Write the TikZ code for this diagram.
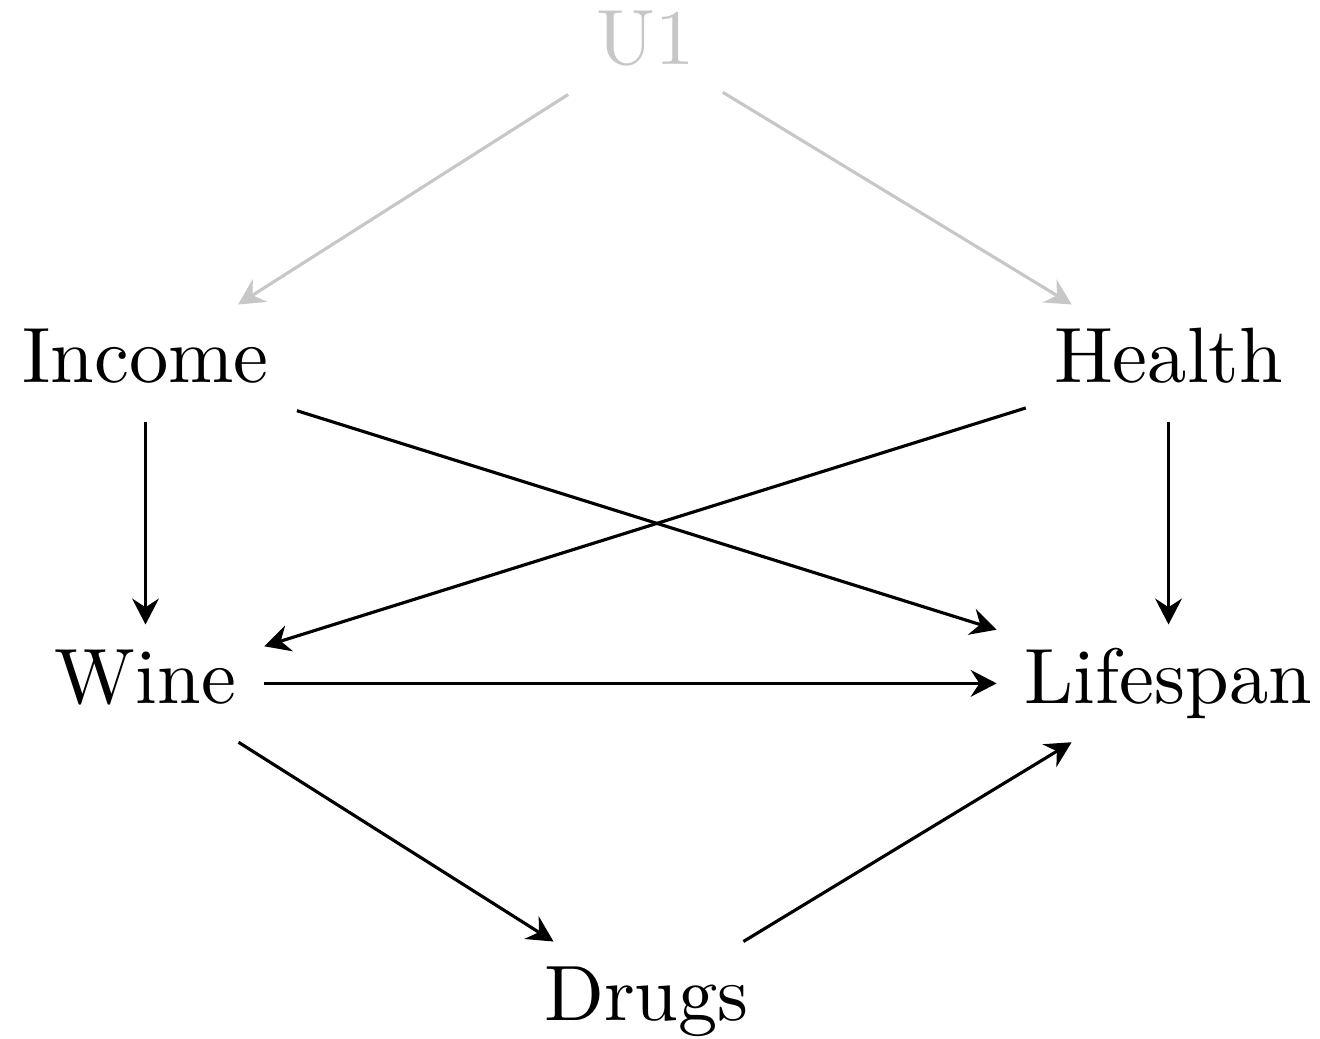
\documentclass[tikz,border=0pt]{standalone}
\usetikzlibrary{arrows.meta}
\begin{document}
\begin{tikzpicture}[x=0.12739pt,y=-0.12739pt,
  var/.style={text height=7.6pt, text depth=2.6pt, inner xsep=3.4pt, inner ysep=2.2pt, anchor=base},
  hid/.style={var, text=black!22},
  arr/.style={-{Stealth[length=3.3pt,width=3.4pt,inset=1.1pt]}, line width=0.4pt},
  harr/.style={arr, draw=black!22}]
\useasboundingbox (0,0) rectangle (1320,1038);
\node[hid] (U1) at (645.5,65) {U1};
\node[var] (Income) at (145.5,383) {Income};
\node[var] (Health) at (1168.5,383) {Health};
\node[var] (Wine) at (145.5,703) {Wine};
\node[var] (Lifespan) at (1168.5,703) {Lifespan};
\node[var] (Drugs) at (646.5,1020) {Drugs};
\draw[harr] (U1) -- (Income);
\draw[harr] (U1) -- (Health);
\draw[arr] (Income) -- (Wine);
\draw[arr] (Income) -- (Lifespan);
\draw[arr] (Health) -- (Wine);
\draw[arr] (Health) -- (Lifespan);
\draw[arr] (Wine) -- (Lifespan);
\draw[arr] (Wine) -- (Drugs);
\draw[arr] (Drugs) -- (Lifespan);
\end{tikzpicture}
\end{document}
